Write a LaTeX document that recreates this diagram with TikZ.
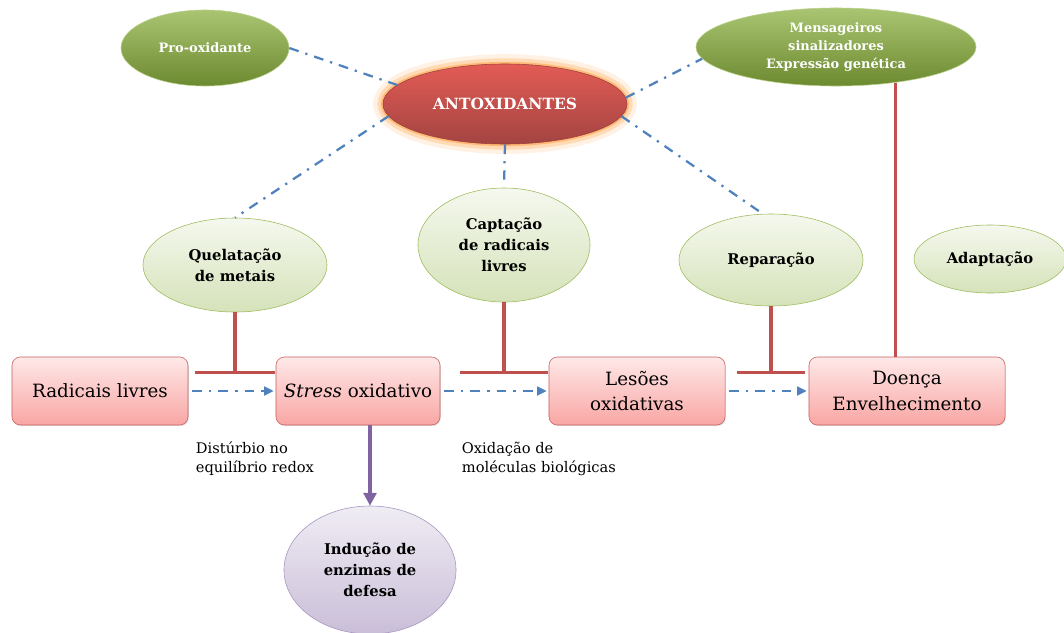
\documentclass[tikz,border=0pt]{standalone}
\usepackage{fontspec}
\setmainfont{DejaVu Serif}
\usetikzlibrary{arrows.meta,positioning,shapes.geometric,shadows,calc}
\definecolor{leaf}{RGB}{155,187,89}
\definecolor{moss}{RGB}{108,138,48}
\definecolor{brick}{RGB}{192,80,77}
\definecolor{ocean}{RGB}{79,129,189}
\definecolor{grape}{RGB}{128,100,162}
\definecolor{rose}{RGB}{249,166,164}
\definecolor{ember}{RGB}{222,62,55}
\tikzset{
  >={Triangle[length=2.4mm,width=2.2mm]},
  dark/.style={ellipse,draw=leaf!70!white,top color=leaf!85!white,bottom color=moss,
    text=white,inner sep=0pt,align=center,font=\bfseries\fontsize{9.2}{12.5}\selectfont},
  soft/.style={ellipse,draw=leaf,top color=leaf!10,bottom color=leaf!42,
    inner sep=0pt,align=center,font=\bfseries\fontsize{10.5}{15}\selectfont},
  hub/.style={ellipse,draw=brick!80!black,top color=ember!85!white,bottom color=brick!85!black,
    text=white,inner sep=0pt,font=\bfseries\fontsize{11}{13}\selectfont,
    preaction={draw=orange!60,line width=14pt,opacity=0.18},
    preaction={draw=orange!70,line width=8pt,opacity=0.3},
    preaction={draw=orange!80,line width=3pt,opacity=0.5}},
  stepbox/.style={rectangle,rounded corners=6pt,draw=brick!90,top color=rose!25,bottom color=rose,
    inner sep=0pt,align=center,font=\fontsize{13}{18}\selectfont,
    drop shadow={opacity=0.25,shadow xshift=0.6pt,shadow yshift=-0.8pt}},
  defence/.style={ellipse,draw=grape!70,top color=grape!12,bottom color=grape!42,
    inner sep=0pt,align=center,font=\bfseries\fontsize{10.5}{15}\selectfont},
  link/.style={draw=ocean,line width=1.6pt,dash pattern=on 7pt off 5pt on 1.6pt off 5pt},
  flow/.style={link,->,shorten <=1mm,shorten >=0.5mm},
  block/.style={draw=brick,line width=2.4pt,-{Bar[width=#1,line width=2.4pt]}},
  block/.default=20mm,
  note/.style={align=left,anchor=north west,font=\fontsize{10.4}{13.5}\selectfont},
}
\begin{document}
\begin{tikzpicture}[x=0.025cm,y=-0.025cm]
  \useasboundingbox (0,0) rectangle (1064,632);
  % top row
  \node[dark,minimum width=42mm,minimum height=19mm] (pro) at (205,48) {Pro-oxidante};
  \node[hub,minimum width=61mm,minimum height=20mm] (anti) at (505,104) {ANTOXIDANTES};
  \node[dark,minimum width=70mm,minimum height=19.5mm] (msg) at (836,47)
    {Mensageiros\\sinalizadores\\Expressão genética};
  % mechanisms
  \node[soft,minimum width=46mm,minimum height=23.5mm] (quel) at (235,265) {Quelatação\\de metais};
  \node[soft,minimum width=43mm,minimum height=28.5mm] (capt) at (504,245) {Captação\\de radicais\\livres};
  \node[soft,minimum width=46mm,minimum height=23mm] (rep) at (771,260) {Reparação};
  \node[soft,minimum width=38mm,minimum height=17mm] (adapt) at (990,259) {Adaptação};
  % chain
  \node[stepbox,minimum width=44mm,minimum height=17mm] (rad) at (100,391) {Radicais livres};
  \node[stepbox,minimum width=41mm,minimum height=17mm] (stress) at (358,391) {\textit{Stress} oxidativo};
  \node[stepbox,minimum width=44mm,minimum height=17mm] (les) at (637,391) {Lesões\\oxidativas};
  \node[stepbox,minimum width=49mm,minimum height=17mm] (doenca) at (907,391) {Doença\\Envelhecimento};
  \node[defence,minimum width=43mm,minimum height=32mm] (indu) at (370,570) {Indução de\\enzimas de\\defesa};
  % notes
  \node[note] (dist) at (191,437) {Distúrbio no\\equilíbrio redox};
  \node[note] (oxid) at (457,437) {Oxidação de\\moléculas biológicas};
  % links from the hub
  \draw[link] (pro.east) -- (anti.170);
  \draw[link] (anti.186) -- (quel.north);
  \draw[link,shorten >=2mm] (anti.south) -- (capt.north);
  \draw[link] (anti.-6) -- (rep.100);
  \draw[link] (anti.3) -- (msg.185);
  % chain arrows
  \draw[flow] (rad) -- (stress);
  \draw[flow] (stress) -- (les);
  \draw[flow] (les) -- (doenca);
  % inhibitions
  \coordinate (q-bar) at (quel.south |- 0,374);
  \coordinate (c-bar) at (capt.south |- 0,374);
  \coordinate (r-bar) at (rep.south |- 0,374);
  \draw[block] (quel.south) -- (q-bar);
  \draw[block=22mm] (capt.south) -- (c-bar);
  \draw[block=17mm] (rep.south) -- (r-bar);
  \draw[draw=brick,line width=2.4pt] (msg.-31) -- (msg.-31 |- doenca.north);
  % induction
  \draw[grape,line width=2.6pt,-{Triangle[length=3.2mm,width=3.2mm]}] (indu.north |- stress.south) -- (indu.north);
\end{tikzpicture}
\end{document}
